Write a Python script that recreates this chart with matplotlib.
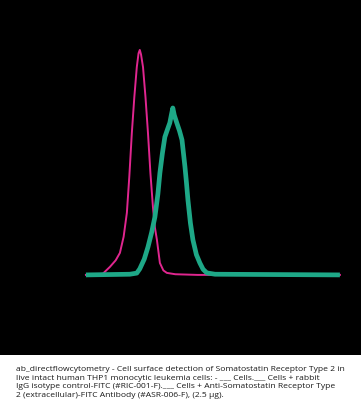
import matplotlib
matplotlib.use('Agg')
import matplotlib.pyplot as plt

# histogram traces (channel, % of max count)
isotype_ch = [0, 68, 97, 120, 137, 152, 165, 175, 185, 195, 205, 212, 217, 222, 230, 240, 250, 260, 270, 278, 286, 298, 312, 326, 360, 450, 1023]
isotype_val = [0, 0.5, 3.6, 6.5, 9.8, 17, 27.6, 44, 63.1, 79, 92.4, 98.5, 100, 98, 92.4, 79, 63.1, 45, 30.2, 21, 15.6, 5.3, 2, 0.9, 0.3, 0, 0]

antibody_ch = [0, 177, 205, 217, 235, 250, 265, 278, 290, 298, 308, 318, 328, 338, 344, 350, 356, 366, 377, 387, 393, 399, 405, 411, 421, 431, 445, 459, 472, 487, 520, 1023]
antibody_val = [0, 0.3, 0.8, 2.7, 7, 12.4, 19, 25.8, 36, 45.3, 54, 61.3, 64.5, 67.6, 71, 74.2, 71, 67.6, 64, 60, 54, 48, 41, 33.3, 23, 15.6, 9, 5.3, 2.5, 0.9, 0.3, 0]

caption = ("ab_directflowcytometry - Cell surface detection of Somatostatin Receptor Type 2 in\n"
           "live intact human THP1 monocytic leukemia cells: - ___ Cells.___ Cells + rabbit\n"
           "IgG isotype control-FITC (#RIC-001-F).___ Cells + Anti-Somatostatin Receptor Type\n"
           "2 (extracellular)-FITC Antibody (#ASR-006-F), (2.5 \u00b5g).")

fig = plt.figure(figsize=(3.61, 4.16), dpi=100)
fig.patch.set_facecolor('white')

ax = fig.add_axes([0, 61 / 416, 1, 355 / 416])
ax.set_facecolor('black')
ax.plot(isotype_ch, isotype_val, color='#e0268f', lw=1.4, solid_joinstyle='round')
ax.plot(antibody_ch, antibody_val, color='#1ea887', lw=3.4, solid_joinstyle='round', solid_capstyle='butt')
ax.set_xlim(-346, 1108)
ax.set_ylim(-35.6, 122.2)
ax.set_xticks([])
ax.set_yticks([])
for s in ax.spines.values():
  s.set_visible(False)

fig.text(16 / 361, 1 - 366 / 416, caption, fontsize=6.1, family='Open Sans',
         va='top', ha='left', linespacing=1.32, color='#1a1a1a')

plt.savefig('out.png', dpi=100, facecolor='white')
